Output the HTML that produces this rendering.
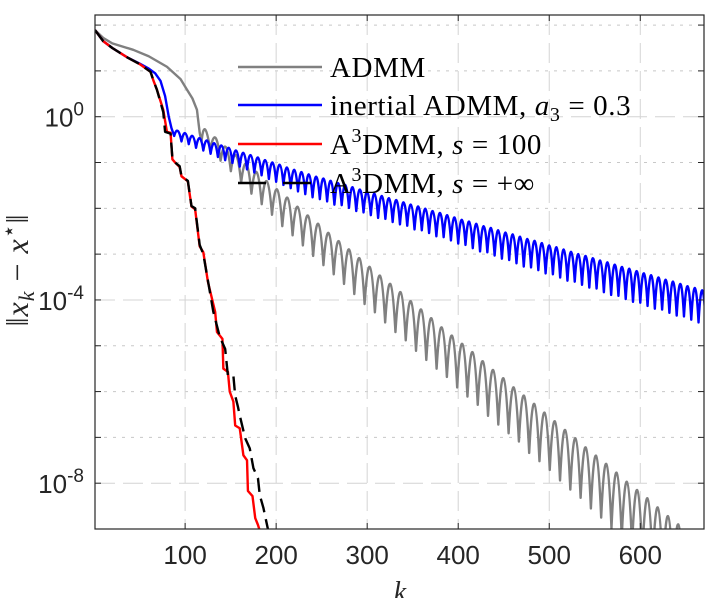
<!DOCTYPE html>
<html><head><meta charset="utf-8"><style>
html,body{margin:0;padding:0;background:#fff;}
svg{display:block;}
.tk{font-family:"Liberation Sans",sans-serif;font-size:26px;fill:#262626;}
.lg{font-family:"Liberation Serif",serif;font-size:29px;fill:#000;letter-spacing:0.6px;}
</style></head><body>
<svg id="chart" width="720" height="598" viewBox="0 0 720 598" xmlns="http://www.w3.org/2000/svg">
<g id="grid"></g>
<g id="series"></g>
<g id="axes"></g>
<g id="legend">
  <line x1="238" y1="67" x2="322" y2="67" stroke="#808080" stroke-width="2.5"/>
  <text class="lg" x="330" y="77">ADMM</text>
  <line x1="238" y1="105" x2="322" y2="105" stroke="#0000ff" stroke-width="2.5"/>
  <text class="lg" x="330" y="115">inertial ADMM, <tspan font-style="italic">a</tspan><tspan font-size="20" dy="6">3</tspan><tspan dy="-6"> = 0.3</tspan></text>
  <line x1="238" y1="144" x2="322" y2="144" stroke="#ff0000" stroke-width="2.5"/>
  <text class="lg" x="330" y="154">A<tspan font-size="20" dy="-12">3</tspan><tspan dy="12">DMM, </tspan><tspan font-style="italic">s</tspan> = 100</text>
  <line x1="238" y1="183" x2="322" y2="183" stroke="#000" stroke-width="2.5" stroke-dasharray="28,17"/>
  <text class="lg" x="330" y="193">A<tspan font-size="20" dy="-12">3</tspan><tspan dy="12">DMM, </tspan><tspan font-style="italic">s</tspan> = +∞</text>
</g>
<text x="400" y="601" font-family="Liberation Serif,serif" font-style="italic" font-size="28" fill="#262626" text-anchor="middle">k</text>
<text transform="translate(28,270) rotate(-90)" font-family="Liberation Serif,serif" font-size="32" letter-spacing="1" fill="#262626" text-anchor="middle">‖<tspan font-style="italic">x</tspan><tspan font-style="italic" font-size="22" dy="6">k</tspan><tspan dy="-6"> − </tspan><tspan font-style="italic">x</tspan><tspan font-size="22" dy="-12">⋆</tspan><tspan dy="12">‖</tspan></text>
</svg>
<script>
// ---- data (log10 of ||x_k - x*||) ----
const xTicks = [100, 200, 300, 400, 500, 600];
const yTickExps = [0, -4, -8];
const yGridExps = [2, 1, 0, -1, -2, -3, -4, -5, -6, -7, -8];

const admmSmoothK = [1, 10, 20, 43, 60, 80, 95, 102, 108, 113, 116, 118];
const admmSmoothLog = [1.89, 1.72, 1.6, 1.46, 1.32, 1.09, 0.82, 0.59, 0.4, 0.15, -0.35, -0.55];
const admmOscStart = 122;
const admmPeriod = 11.3;
const admmPeakLog = [-0.28,-0.46,-0.66,-0.84,-1.03,-1.21,-1.41,-1.59,-1.77,-1.97,-2.16,-2.34,-2.54,-2.72,-2.90,-3.09,-3.28,-3.47,-3.65,-3.83,-4.03,-4.21,-4.40,-4.60,-4.78,-4.96,-5.14,-5.34,-5.53,-5.71,-5.91,-6.09,-6.27,-6.46,-6.65,-6.84,-7.02,-7.22,-7.40,-7.58,-7.77,-7.97,-8.15,-8.33,-8.53,-8.72,-8.90,-9.08];
const admmTroughLog = [-0.73,-0.96,-1.19,-1.44,-1.68,-1.91,-2.14,-2.39,-2.59,-2.81,-3.04,-3.24,-3.44,-3.65,-3.87,-4.09,-4.27,-4.49,-4.70,-4.88,-5.11,-5.31,-5.50,-5.68,-5.91,-6.11,-6.29,-6.53,-6.72,-6.91,-7.09,-7.34,-7.52,-7.71,-7.94,-8.14,-8.32,-8.55,-8.75,-8.98,-9.17,-9.35,-9.55,-9.73,-9.92,-10.1,-10.3,-10.5];

const inertialSmoothK = [1, 10, 20, 36, 50, 60, 67, 73, 78, 82, 85, 88];
const inertialSmoothLog = [1.89, 1.65, 1.5, 1.3, 1.16, 1.05, 0.95, 0.78, 0.45, 0.0, -0.25, -0.42];
const inertialOscStart = 92;
const inertialPeriod = 8;
const inertialPeakLog = [-0.31,-0.36,-0.42,-0.47,-0.52,-0.58,-0.63,-0.68,-0.74,-0.79,-0.84,-0.89,-0.95,-1.00,-1.05,-1.11,-1.16,-1.21,-1.26,-1.31,-1.35,-1.40,-1.45,-1.49,-1.54,-1.59,-1.64,-1.68,-1.73,-1.78,-1.82,-1.87,-1.92,-1.96,-2.01,-2.06,-2.10,-2.15,-2.20,-2.25,-2.29,-2.34,-2.39,-2.43,-2.48,-2.53,-2.57,-2.62,-2.67,-2.71,-2.76,-2.81,-2.85,-2.90,-2.95,-3.00,-3.04,-3.09,-3.14,-3.18,-3.23,-3.28,-3.32,-3.37,-3.42,-3.46,-3.51,-3.56,-3.60,-3.65,-3.70,-3.74,-3.79];
const inertialTroughLog = [-0.54,-0.60,-0.68,-0.74,-0.81,-0.88,-0.95,-1.01,-1.09,-1.15,-1.22,-1.28,-1.36,-1.42,-1.49,-1.56,-1.63,-1.69,-1.76,-1.80,-1.85,-1.92,-1.93,-1.99,-2.06,-2.09,-2.15,-2.21,-2.23,-2.30,-2.35,-2.38,-2.46,-2.48,-2.54,-2.61,-2.63,-2.70,-2.77,-2.80,-2.87,-2.94,-2.96,-3.03,-3.10,-3.13,-3.20,-3.27,-3.29,-3.35,-3.42,-3.44,-3.51,-3.58,-3.60,-3.67,-3.73,-3.75,-3.83,-3.89,-3.91,-3.98,-4.04,-4.06,-4.13,-4.19,-4.21,-4.28,-4.34,-4.36,-4.43,-4.49,-4.51];

const a3s100K = [1, 10, 20, 36, 50, 62, 65, 69, 76, 80, 84, 86, 89, 94, 96, 103, 107, 111, 116, 120, 125, 133, 135, 141, 142, 147, 149, 153, 155, 160, 164, 168, 169, 174, 177, 180, 183];
const a3s100Log = [1.89, 1.65, 1.5, 1.3, 1.15, 0.98, 0.8, 0.59, 0.15, -0.33, -0.35, -0.93, -1.0, -1.1, -1.3, -1.41, -1.96, -2.02, -2.83, -2.96, -3.6, -4.26, -4.70, -4.85, -5.50, -5.57, -6.0, -6.22, -6.74, -6.80, -7.39, -7.50, -8.17, -8.28, -8.76, -8.91, -9.1];

const a3infK = [1, 10, 20, 36, 50, 62, 65, 69, 76, 78, 84, 86, 89, 94, 96, 103, 107, 111, 116, 120, 131, 138, 144, 147, 153, 155, 158, 160, 166, 171, 175, 180, 182, 186, 192];
const a3infLog = [1.89, 1.65, 1.5, 1.3, 1.15, 0.98, 0.8, 0.59, 0.1, -0.33, -0.37, -0.9, -1.0, -1.08, -1.3, -1.4, -1.95, -2.0, -2.8, -3.0, -4.26, -4.80, -5.07, -5.65, -5.65, -6.09, -6.33, -6.52, -7.02, -7.24, -7.67, -7.89, -8.26, -8.54, -9.1];

// ---- axes ----
const X0 = 95, X1 = 704, Y0 = 15, Y1 = 529;
const kMin = 1, kMax = 670, lMin = -9, lMax = 2.22;
function xs(k){ return X0 + (k - kMin) / (kMax - kMin) * (X1 - X0); }
function ys(l){ return Y1 - (l - lMin) / (lMax - lMin) * (Y1 - Y0); }
const NS = 'http://www.w3.org/2000/svg';
function mk(tag, parent){ const e = document.createElementNS(NS, tag); parent.appendChild(e); return e; }

const grid = document.getElementById('grid');
yGridExps.forEach(function(e){
  const ln = mk('line', grid);
  
  
  ln.setAttribute('x1', X0); ln.setAttribute('x2', X1);
  ln.setAttribute('y1', ys(e)); ln.setAttribute('y2', ys(e));
  const major = yTickExps.indexOf(e) >= 0;
  ln.setAttribute('stroke', major ? '#d4d4d4' : '#c8c8c8');
  ln.setAttribute('stroke-width', '1');
  ln.setAttribute('stroke-dasharray', major ? '20,8' : '3,6');
});
xTicks.forEach(function(k){
  const ln = mk('line', grid);
  
  
  ln.setAttribute('x1', xs(k)); ln.setAttribute('x2', xs(k));
  ln.setAttribute('y1', Y0); ln.setAttribute('y2', Y1);
  ln.setAttribute('stroke', '#d4d4d4');
  ln.setAttribute('stroke-dasharray', '20,8');
});

// ---- series ----
const series = document.getElementById('series');
const clip = mk('clipPath', series); clip.setAttribute('id', 'pc');
const cr = mk('rect', clip);
cr.setAttribute('x', X0); cr.setAttribute('y', Y0); cr.setAttribute('width', X1 - X0); cr.setAttribute('height', Y1 - Y0);

function polyD(K, L){
  return K.map(function(k, i){ return (i ? 'L' : 'M') + xs(k).toFixed(2) + ',' + ys(L[i]).toFixed(2); }).join('');
}
function oscD(sK, sL, start, period, peaks, troughs){
  let d = polyD(sK, sL);
  let ax = xs(sK[sK.length - 1]), ay = ys(sL[sL.length - 1]);
  for (let i = 0; i < peaks.length; i++){
    const pk = start + period * i;
    const px = xs(pk), py = ys(peaks[i]);
    const bx = xs(pk + period / 2), by = ys(troughs[i]);
    const cx = 2 * px - (ax + bx) / 2, cy = 2 * py - (ay + by) / 2;
    d += 'Q' + cx.toFixed(2) + ',' + cy.toFixed(2) + ' ' + bx.toFixed(2) + ',' + by.toFixed(2);
    ax = bx; ay = by;
  }
  return d;
}
function addPath(d, color, name, dash){
  const p = mk('path', series);
  
  
  p.setAttribute('d', d);
  p.setAttribute('fill', 'none');
  p.setAttribute('stroke', color);
  p.setAttribute('stroke-width', '2.4');
  p.setAttribute('stroke-linejoin', 'round');
  p.setAttribute('clip-path', 'url(#pc)');
  if (dash) p.setAttribute('stroke-dasharray', dash);
}
addPath(oscD(admmSmoothK, admmSmoothLog, admmOscStart, admmPeriod, admmPeakLog, admmTroughLog), '#808080', 'admm-line');
addPath(oscD(inertialSmoothK, inertialSmoothLog, inertialOscStart, inertialPeriod, inertialPeakLog, inertialTroughLog), '#0000ff', 'inertial-admm-line');
addPath(polyD(a3s100K, a3s100Log), '#ff0000', 'a3dmm-s100-line');
addPath(polyD(a3infK, a3infLog), '#000000', 'a3dmm-sinf-line', '14,7');

// ---- axes box & ticks ----
const axes = document.getElementById('axes');
const box = mk('rect', axes);


box.setAttribute('x', X0); box.setAttribute('y', Y0);
box.setAttribute('width', X1 - X0); box.setAttribute('height', Y1 - Y0);
box.setAttribute('fill', 'none'); box.setAttribute('stroke', '#262626'); box.setAttribute('stroke-width', '1.2');

xTicks.forEach(function(k){
  [[Y1, Y1 - 6], [Y0, Y0 + 6]].forEach(function(p){
    const t = mk('line', axes);
    
    
    t.setAttribute('x1', xs(k)); t.setAttribute('x2', xs(k));
    t.setAttribute('y1', p[0]); t.setAttribute('y2', p[1]);
    t.setAttribute('stroke', '#262626');
  });
  const lb = mk('text', axes);
  
  
  lb.setAttribute('class', 'tk');
  lb.setAttribute('x', xs(k)); lb.setAttribute('y', 564);
  lb.setAttribute('text-anchor', 'middle');
  lb.textContent = String(k);
});
yGridExps.forEach(function(e){
  [[X0, X0 + 6], [X1, X1 - 6]].forEach(function(p){
    const t = mk('line', axes);
    
    
    t.setAttribute('x1', p[0]); t.setAttribute('x2', p[1]);
    t.setAttribute('y1', ys(e)); t.setAttribute('y2', ys(e));
    t.setAttribute('stroke', '#262626');
  });
});
yTickExps.forEach(function(e){
  const lb = mk('text', axes);
  
  
  lb.setAttribute('class', 'tk');
  lb.setAttribute('x', 84); lb.setAttribute('y', ys(e) + 10);
  lb.setAttribute('text-anchor', 'end');
  const a = mk('tspan', lb); a.textContent = '10';
  const b = mk('tspan', lb); b.setAttribute('font-size', '19'); b.setAttribute('dy', '-11'); b.textContent = String(e);
});
</script>
</body></html>
